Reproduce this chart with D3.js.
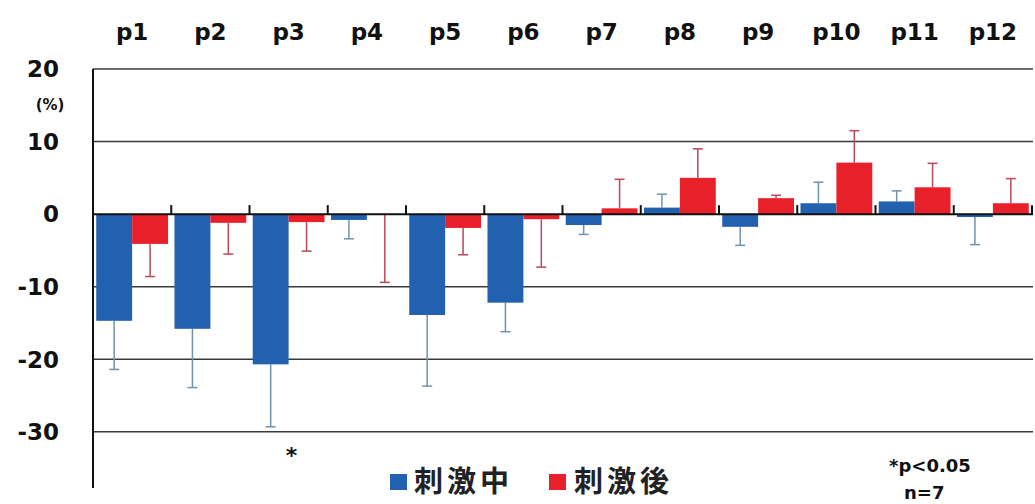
<!DOCTYPE html>
<html><head><meta charset="utf-8">
<script src="https://cdn.jsdelivr.net/npm/d3@7"></script>
<style>body{margin:0;background:#fff}svg{display:block}</style>
</head><body>
<svg id="c" width="1035" height="504"></svg>
<script>
const categories = ["p1","p2","p3","p4","p5","p6","p7","p8","p9","p10","p11","p12"];
const seriesNames = ["刺激中","刺激後"];
const during = [-14.7,-15.8,-20.7,-0.8,-13.9,-12.2,-1.5,0.9,-1.75,1.5,1.75,-0.4];
const duringErr = [6.7,8.1,8.6,2.6,9.8,4.0,1.3,1.85,2.55,2.9,1.45,3.8];
const after = [-4.1,-1.2,-1.1,-0.1,-1.9,-0.7,0.8,5.0,2.2,7.1,3.7,1.5];
const afterErr = [4.5,4.3,4.0,9.3,3.7,6.6,4.0,4.0,0.4,4.4,3.3,3.4];
const yTicks = [20,10,0,-10,-20,-30];
const sigIndex = [2];

const svg = d3.select("#c");
const x = d3.scaleBand().domain(categories).range([93,1032]);
const y = d3.scaleLinear().domain([-40,20]).range([504.4,69]);
const font = "'DejaVu Sans', Verdana, sans-serif";
const colors = ["#2261b0","#e8202a"];
const errColors = ["#6f93ad","#b8485a"];

// gridlines
svg.append("g").selectAll("line").data(yTicks.filter(d=>d!==0)).join("line")
  .attr("x1",93).attr("x2",1033).attr("y1",d=>y(d)).attr("y2",d=>y(d))
  .attr("stroke","#3a3a3a").attr("stroke-width",1.5);

// y tick labels
svg.append("g").selectAll("text").data(yTicks).join("text")
  .attr("x",59).attr("y",d=>y(d)).attr("dy","0.36em").attr("text-anchor","end")
  .attr("font-family",font).attr("font-weight","bold").attr("font-size",23).attr("fill","#111")
  .text(d=>d);
svg.append("text").attr("x",50).attr("y",110).attr("text-anchor","middle")
  .attr("font-family",font).attr("font-weight","bold").attr("font-size",15).attr("fill","#111").text("(%)");

// category labels on top
svg.append("g").selectAll("text").data(categories).join("text")
  .attr("x",d=>x(d)+x.bandwidth()/2).attr("y",40).attr("text-anchor","middle")
  .attr("font-family",font).attr("font-weight","bold").attr("font-size",23).attr("fill","#111")
  .text(d=>d);

const inner = d3.scaleBand().domain([0,1]).range([0,x.bandwidth()]).paddingOuter(0.09).paddingInner(0);
const series = [during, after];
const errs = [duringErr, afterErr];

series.forEach((vals,si)=>{
  const g = svg.append("g");
  const eb = g.selectAll("g.e").data(vals.map((v,i)=>({v,e:errs[si][i],c:categories[i]}))).join("g");
  const cx = d=>x(d.c)+inner(si)+inner.bandwidth()/2;
  const endV = d=>d.v>=0 ? d.v+d.e : d.v-d.e;
  eb.append("line").attr("x1",cx).attr("x2",cx).attr("y1",d=>y(d.v)).attr("y2",d=>y(endV(d)))
    .attr("stroke",errColors[si]).attr("stroke-width",1.5);
  eb.append("line").attr("x1",d=>cx(d)-5).attr("x2",d=>cx(d)+5).attr("y1",d=>y(endV(d))).attr("y2",d=>y(endV(d)))
    .attr("stroke",errColors[si]).attr("stroke-width",1.5);
  g.selectAll("rect").data(vals.map((v,i)=>({v,c:categories[i]}))).join("rect")
    .attr("x",d=>x(d.c)+inner(si)).attr("width",inner.bandwidth())
    .attr("y",d=>y(Math.max(0,d.v))).attr("height",d=>Math.abs(y(d.v)-y(0)))
    .attr("fill",colors[si]);
});

// axes
svg.append("line").attr("x1",93).attr("x2",93).attr("y1",69).attr("y2",488).attr("stroke","#111").attr("stroke-width",2);
svg.append("line").attr("x1",93).attr("x2",1033).attr("y1",y(0)).attr("y2",y(0)).attr("stroke","#111").attr("stroke-width",2);
svg.append("g").selectAll("line").data(categories.concat(["end"])).join("line")
  .attr("x1",(d,i)=>i<categories.length? x(d): x.range()[1]).attr("x2",(d,i)=>i<categories.length? x(d): x.range()[1])
  .attr("y1",y(0)-9).attr("y2",y(0)).attr("stroke","#111").attr("stroke-width",2);

// significance mark
svg.append("g").selectAll("text").data(sigIndex).join("text")
  .attr("x",i=>x(categories[i])+x.bandwidth()/2+3).attr("y",463).attr("text-anchor","middle")
  .attr("font-family",font).attr("font-weight","bold").attr("font-size",22).attr("fill","#111").text("*");

// legend
const leg = [{x:390,tx:414},{x:549,tx:574}];
seriesNames.forEach((n,i)=>{
  svg.append("rect").attr("x",leg[i].x).attr("y",474).attr("width",17).attr("height",16).attr("fill",colors[i]);
  svg.append("text").attr("x",leg[i].tx).attr("y",492).attr("font-family","'Noto Sans CJK JP', sans-serif")
    .attr("font-weight","bold").attr("font-size",29).attr("letter-spacing",4).attr("fill","#222").text(n);
});

svg.append("text").attr("x",889).attr("y",472).attr("font-family",font).attr("font-weight","bold").attr("font-size",18).attr("fill","#111").text("*p<0.05");
svg.append("text").attr("x",904).attr("y",499).attr("font-family",font).attr("font-weight","bold").attr("font-size",18).attr("fill","#111").text("n=7");
</script>
</body></html>
